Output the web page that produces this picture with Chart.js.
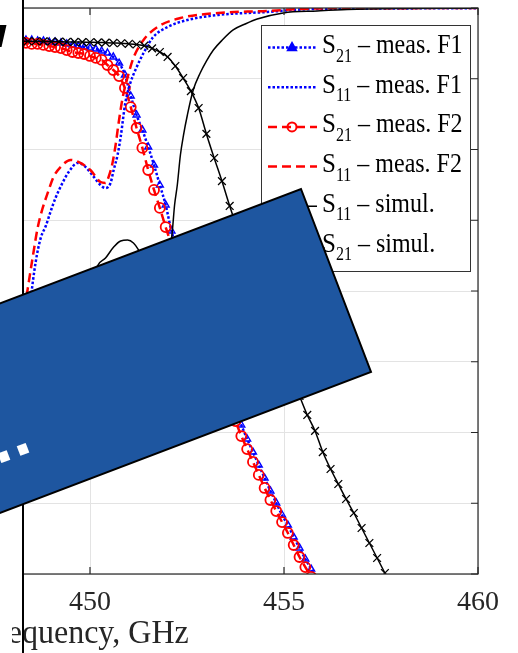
<!DOCTYPE html>
<html>
<head>
<meta charset="utf-8">
<script src="https://cdn.jsdelivr.net/npm/chart.js@4.4.0/dist/chart.umd.min.js"></script>
<style>
  html, body { margin:0; padding:0; background:#fff; overflow:hidden; }
  #wrap { position:absolute; left:-380px; top:0; width:898px; height:653px; }
</style>
</head>
<body>
<div id="wrap"><canvas id="c" width="898" height="653"></canvas></div>
<script>
// axis ticks
const xTicks = [440, 445, 450, 455, 460];
const yTicks = [0, -5, -10, -15, -20, -25, -30, -35, -40];
const xTitle = 'Frequency, GHz';

// measured S21 (F1 blue, F2 red) share one frequency grid, GHz
const measFreq = [448.2, 448.35, 448.5, 448.65, 448.8, 448.95, 449.1, 449.25, 449.4, 449.55, 449.7, 449.85,
  450.0, 450.15, 450.3, 450.45, 450.6, 450.75, 450.9, 451.05, 451.2, 451.35, 451.5, 451.65, 451.8, 451.95,
  452.1, 452.25, 452.4, 452.55, 452.7, 452.85, 453.0, 453.15, 453.3, 453.45, 453.6, 453.75, 453.9, 454.05,
  454.2, 454.35, 454.5, 454.65, 454.8, 454.95, 455.1, 455.25, 455.4, 455.55, 455.7, 455.85];
const s21F1 = [-2.26, -2.26, -2.26, -2.33, -2.33, -2.40, -2.40, -2.47, -2.54, -2.61, -2.69, -2.76,
  -2.83, -2.90, -3.04, -3.18, -3.46, -3.89, -4.73, -6.22, -7.56, -8.62, -9.82, -11.10, -12.51, -13.92,
  -15.76, -17.10, -18.37, -19.58, -20.78, -21.91, -23.04, -24.17, -25.23, -26.29, -27.35, -28.41, -29.47, -30.46,
  -31.38, -32.30, -33.22, -34.13, -34.98, -35.83, -36.54, -37.39, -38.16, -38.94, -39.65, -40.42];
const s21F2 = [-2.47, -2.47, -2.54, -2.54, -2.61, -2.69, -2.76, -2.83, -2.97, -3.11, -3.18, -3.25,
  -3.39, -3.53, -3.67, -4.03, -4.38, -4.81, -5.65, -7.00, -8.48, -9.89, -11.45, -12.86, -14.13, -15.48,
  -16.75, -18.02, -19.29, -20.42, -21.63, -22.76, -23.89, -25.02, -26.08, -27.14, -28.20, -29.19, -30.25, -31.17,
  -32.08, -33.00, -33.92, -34.77, -35.55, -36.33, -37.10, -37.95, -38.80, -39.51, -40.21, -40.95];

// measured S11
const s11F1Freq = [448.42, 448.47, 448.60, 448.73, 448.86, 448.98, 449.11, 449.29, 449.45, 449.68, 449.83, 450.06,
  450.27, 450.40, 450.53, 450.61, 450.71, 450.79, 450.91, 451.04, 451.17, 451.38, 451.63, 452.00, 452.51,
  453.31, 454.57, 455.42, 456.27, 457.99, 460.0];
const s11F1 = [-22.05, -20.64, -17.95, -16.25, -15.41, -14.42, -13.43, -12.37, -11.59, -10.95, -11.10, -11.80,
  -12.51, -12.72, -12.37, -11.45, -10.39, -9.12, -6.71, -5.30, -4.38, -3.18, -2.05, -1.34, -0.85,
  -0.49, -0.28, -0.11, -0.05, -0.03, -0.01];
const s11F2Freq = [448.31, 448.39, 448.52, 448.65, 448.75, 448.91, 449.06, 449.24, 449.50, 449.70, 450.01, 450.27,
  450.40, 450.48, 450.58, 450.66, 450.73, 450.84, 450.97, 451.12, 451.38, 451.74, 452.33, 453.31, 454.57,
  455.42, 456.27, 457.99, 460.0];
const s11F2 = [-21.34, -19.93, -17.67, -15.55, -14.42, -13.07, -11.94, -11.24, -10.74, -10.88, -11.45, -12.30,
  -12.37, -11.94, -10.95, -9.68, -8.27, -6.36, -4.88, -3.53, -2.26, -1.34, -0.71, -0.35, -0.21,
  -0.07, -0.02, -0.01, 0.0];

// simulation
const s11SimFreq = [449.88, 450.01, 450.19, 450.40, 450.61, 450.79, 450.97, 451.12, 451.25, 451.43, 451.61, 451.76,
  451.92, 452.05, 452.12, 452.18, 452.25, 452.33, 452.41, 452.51, 452.66, 452.84, 453.00, 453.18, 453.41,
  453.69, 454.00, 454.31, 454.98, 455.86, 456.63, 457.81, 460.0];
const s11Sim = [-22.05, -19.93, -18.23, -17.67, -16.89, -16.47, -16.40, -16.61, -17.10, -18.16, -19.93, -22.76,
  -19.93, -17.46, -15.83, -13.92, -12.51, -10.39, -8.98, -7.56, -5.80, -4.59, -3.75, -2.97, -2.26,
  -1.55, -1.13, -0.78, -0.35, -0.21, -0.11, -0.04, -0.01];
const s21SimFreq = [448.2, 448.4, 448.6, 448.8, 449.0, 449.2, 449.4, 449.6, 449.8, 450.0, 450.2, 450.4, 450.6, 450.8,
  451.0, 451.2, 451.4, 451.6, 451.8, 452.0, 452.2, 452.4, 452.6, 452.8, 453.0, 453.2, 453.4, 453.6, 453.8,
  454.0, 454.2, 454.4, 454.6, 454.8, 455.0, 455.2, 455.4, 455.6, 455.8, 456.0, 456.2, 456.4, 456.6, 456.8,
  457.0, 457.2, 457.4, 457.6, 457.8];
const s21Sim = [-2.35, -2.35, -2.35, -2.36, -2.37, -2.38, -2.40, -2.40, -2.41, -2.42, -2.43, -2.45, -2.47, -2.49,
  -2.53, -2.58, -2.66, -2.85, -3.11, -3.46, -4.10, -4.95, -5.87, -7.07, -8.90, -10.60, -12.23, -13.99, -15.62,
  -17.17, -18.73, -20.28, -21.77, -23.25, -24.66, -26.08, -27.42, -28.76, -29.89, -31.38, -32.58, -33.64, -34.70, -35.69,
  -36.75, -37.81, -38.87, -39.93, -41.06];

const OFF = 380; // canvas is shifted left, page x = canvas x - OFF
const serif = '"Liberation Serif", "Times New Roman", serif';
const ink = '#262626';

const pts = (xs, ys) => xs.map((x, i) => ({ x, y: ys[i] }));

const datasets = [
  { label: 'S_{21} – meas. F1', data: pts(measFreq, s21F1), borderColor: '#0000ff', borderWidth: 2.5, borderDash: [2.5, 2],
    pointStyle: 'triangle', pointRadius: 4, pointBorderWidth: 1.4, pointBorderColor: '#0000ff', pointBackgroundColor: 'rgba(0,0,0,0)', order: 5 },
  { label: 'S_{11} – meas. F1', data: pts(s11F1Freq, s11F1), borderColor: '#0000ff', borderWidth: 2.5, borderDash: [2.5, 2],
    pointRadius: 0, order: 3 },
  { label: 'S_{21} – meas. F2', data: pts(measFreq, s21F2), borderColor: '#ff0000', borderWidth: 2.5, borderDash: [9, 5],
    pointStyle: 'circle', pointRadius: 5, pointBorderWidth: 1.8, pointBorderColor: '#ff0000', pointBackgroundColor: 'rgba(0,0,0,0)', order: 4 },
  { label: 'S_{11} – meas. F2', data: pts(s11F2Freq, s11F2), borderColor: '#ff0000', borderWidth: 2.5, borderDash: [9, 5],
    pointRadius: 0, order: 2 },
  { label: 'S_{11} – simul.', data: pts(s11SimFreq, s11Sim), borderColor: '#000000', borderWidth: 1.5,
    pointRadius: 0, order: 1 },
  { label: 'S_{21} – simul.', data: pts(s21SimFreq, s21Sim), borderColor: '#000000', borderWidth: 1.5,
    pointStyle: 'crossRot', pointRadius: 5.5, pointBorderWidth: 1.3, pointBorderColor: '#000000', order: 0 }
];
datasets.forEach(d => { d.clip = 0; d.cubicInterpolationMode = 'monotone'; d.fill = false; });

function marker(ctx, style, x, y, r, color, lw) {
  ctx.save();
  ctx.strokeStyle = color; ctx.lineWidth = lw; ctx.setLineDash([]);
  ctx.beginPath();
  if (style === 'triangle') {
    ctx.moveTo(x, y - r); ctx.lineTo(x + r * 0.9, y + r * 0.6); ctx.lineTo(x - r * 0.9, y + r * 0.6); ctx.closePath();
    ctx.fillStyle = color; ctx.fill();
  } else if (style === 'circle') {
    ctx.arc(x, y, r, 0, Math.PI * 2);
  } else if (style === 'crossRot') {
    ctx.moveTo(x - r * 0.7, y - r * 0.7); ctx.lineTo(x + r * 0.7, y + r * 0.7);
    ctx.moveTo(x + r * 0.7, y - r * 0.7); ctx.lineTo(x - r * 0.7, y + r * 0.7);
  }
  ctx.stroke();
  ctx.restore();
}

// text slightly taller than wide, like the source figure
function stretchText(ctx, txt, x, y, font, sy) {
  ctx.save();
  ctx.translate(x, y); ctx.scale(1, sy || 1.12);
  ctx.font = font; ctx.fillText(txt, 0, 0);
  const w = ctx.measureText(txt).width;
  ctx.restore();
  return w;
}

function drawLegend(chart) {
  const ctx = chart.ctx;
  const bx = OFF + 261, by = 25, bw = 209, bh = 246;
  ctx.save();
  ctx.fillStyle = '#fff'; ctx.fillRect(bx, by, bw, bh);
  ctx.strokeStyle = '#333'; ctx.lineWidth = 1; ctx.strokeRect(bx + 0.5, by + 0.5, bw, bh);
  chart.data.datasets.forEach((ds, i) => {
    const y = 47.5 + i * 39.7;
    ctx.save();
    ctx.strokeStyle = ds.borderColor; ctx.lineWidth = ds.borderWidth; ctx.setLineDash(ds.borderDash || []);
    ctx.beginPath(); ctx.moveTo(OFF + 268, y); ctx.lineTo(OFF + 317, y); ctx.stroke();
    ctx.restore();
    if (ds.pointRadius > 0) marker(ctx, ds.pointStyle, OFF + 292, y, ds.pointStyle === 'crossRot' ? 5 : 4.5, ds.pointBorderColor, 2);
    const m = /^S_\{(\d+)\}(.*)$/.exec(ds.label);
    ctx.fillStyle = '#000'; ctx.textBaseline = 'alphabetic'; ctx.textAlign = 'left';
    let x = OFF + 322;
    x += stretchText(ctx, 'S', x, y + 5.5, '25px ' + serif);
    x += stretchText(ctx, m[1], x, y + 14, '16px ' + serif);
    stretchText(ctx, m[2], x, y + 5.5, '24px ' + serif);
  });
  ctx.restore();
}

const frame = {
  id: 'frame',
  afterDatasetsDraw(chart) {
    const { ctx, chartArea: ca, scales } = chart;
    ctx.save();
    ctx.strokeStyle = ink; ctx.lineWidth = 1.2; ctx.setLineDash([]);
    ctx.strokeRect(ca.left, ca.top, ca.right - ca.left, ca.bottom - ca.top);
    ctx.beginPath();
    xTicks.forEach(v => {
      const px = scales.x.getPixelForValue(v);
      ctx.moveTo(px, ca.bottom); ctx.lineTo(px, ca.bottom - 7);
      ctx.moveTo(px, ca.top); ctx.lineTo(px, ca.top + 7);
    });
    yTicks.forEach(v => {
      const py = scales.y.getPixelForValue(v);
      ctx.moveTo(ca.right, py); ctx.lineTo(ca.right - 7, py);
      ctx.moveTo(ca.left, py); ctx.lineTo(ca.left + 7, py);
    });
    ctx.stroke();
    // x axis title, centred a little left of the axis middle as in the source
    ctx.fillStyle = ink; ctx.textAlign = 'center'; ctx.textBaseline = 'alphabetic';
    ctx.save();
    ctx.translate((ca.left + ca.right) / 2 - 6, 643); ctx.scale(1, 1.04);
    ctx.font = '32px ' + serif; ctx.fillText(xTitle, 0, 0);
    ctx.restore();
    ctx.restore();
  },
  afterDraw(chart) {
    const ctx = chart.ctx;
    drawLegend(chart);
    ctx.save();
    // white panel over the left part, with its black edge
    ctx.fillStyle = '#fff';
    ctx.fillRect(0, 0, OFF + 22, 615);
    ctx.fillRect(0, 615, OFF + 12, 40);
    ctx.fillStyle = '#000';
    ctx.fillRect(OFF + 22, 0, 2, 653);
    ctx.beginPath();
    ctx.moveTo(OFF + 0, 25); ctx.lineTo(OFF + 6.5, 25); ctx.lineTo(OFF + 1.5, 47); ctx.lineTo(OFF + 0, 47); ctx.closePath();
    ctx.fill();
    // tilted blue banner
    const ux = 0.9348, uy = -0.3552, far = 900;
    const T = [OFF + 301, 189], R = [OFF + 371, 372];
    ctx.beginPath();
    ctx.moveTo(T[0], T[1]); ctx.lineTo(R[0], R[1]);
    ctx.lineTo(R[0] - ux * far, R[1] - uy * far); ctx.lineTo(T[0] - ux * far, T[1] - uy * far);
    ctx.closePath();
    ctx.fillStyle = '#1e56a0'; ctx.fill();
    ctx.strokeStyle = '#000'; ctx.lineWidth = 2; ctx.stroke();
    ctx.translate(OFF + 23, 449); ctx.rotate(-0.363);
    ctx.fillStyle = '#fff'; ctx.font = 'bold 54px "DejaVu Sans"'; ctx.textAlign = 'right'; ctx.textBaseline = 'alphabetic';
    ctx.fillText('...', 10.3, 5.4);
    ctx.restore();
  }
};

new Chart(document.getElementById('c'), {
  type: 'line',
  data: { datasets },
  options: {
    responsive: false, animation: false, devicePixelRatio: 1,
    layout: { padding: { top: 8, right: 40, left: 0, bottom: 0 } },
    plugins: { legend: { display: false }, tooltip: { enabled: false } },
    scales: {
      x: {
        type: 'linear', min: 440, max: 460,
        afterBuildTicks: s => { s.ticks = xTicks.map(v => ({ value: v })); },
        afterFit: s => { s.height = 79; },
        grid: { color: '#e3e3e3', drawTicks: false },
        border: { display: false },
        ticks: { font: { family: serif, size: 28 }, color: ink, padding: 12, maxRotation: 0 }
      },
      y: {
        type: 'linear', min: -40, max: 0,
        afterBuildTicks: s => { s.ticks = yTicks.map(v => ({ value: v })); },
        afterFit: s => { s.width = 82; },
        grid: { color: '#e3e3e3', drawTicks: false },
        border: { display: false },
        ticks: { display: false }
      }
    }
  },
  plugins: [frame]
});
</script>
</body>
</html>
